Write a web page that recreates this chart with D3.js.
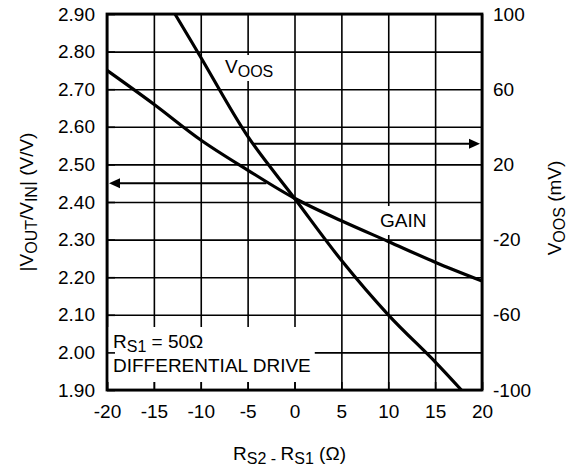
<!DOCTYPE html>
<html>
<head>
<meta charset="utf-8">
<script src="https://cdn.jsdelivr.net/npm/d3@7"></script>
<style>
  body { margin: 0; background: #fff; }
  svg { font-family: "Liberation Sans", Arial, sans-serif; }
  .tick text { font-size: 19px; fill: #000; }
</style>
</head>
<body>
<div id="chart"></div>
<script>
// x positions (ohms) for the gain curve
const rsDiff = [-20, -15, -10, -5, 0, 5, 10, 15, 20];
const gainValues = [2.75, 2.66, 2.565, 2.485, 2.41, 2.35, 2.295, 2.24, 2.19];

// offset voltage curve (mV), right axis
const vosX = [-12.75, -10, -5, 0, 5, 10, 15, 17.8];
const vosValues = [100, 77, 35, 2, -31, -60, -85, -100];

// tick values
const xTicks = [-20, -15, -10, -5, 0, 5, 10, 15, 20];
const gainTicks = [1.9, 2.0, 2.1, 2.2, 2.3, 2.4, 2.5, 2.6, 2.7, 2.8, 2.9];
const vosTicks = [100, 60, 20, -20, -60, -100];

// arrows pointing to the axis each curve belongs to
const arrows = [
  { x: -3, value: 2.45, side: "left" },
  { x: -4.5, value: 31, side: "right" },
];

const width = 576;
const height = 466;
const margin = { top: 14, right: 94, bottom: 76, left: 107 };
const w = width - margin.left - margin.right;
const h = height - margin.top - margin.bottom;

// plain hyphen for negatives, like the original
const hyphen = (f) => (d) => f(d).replace("−", "-");

const svg = d3
  .select("#chart")
  .append("svg")
  .attr("width", width)
  .attr("height", height);

const g = svg
  .append("g")
  .attr("transform", `translate(${margin.left},${margin.top})`);

const xScale = d3.scaleLinear().domain([-20, 20]).range([0, w]);
const yLeft = d3.scaleLinear().domain([1.9, 2.9]).range([h, 0]);
const yRight = d3.scaleLinear().domain([-100, 100]).range([h, 0]);

// grid lines
g.append("g")
  .attr("class", "grid")
  .call(d3.axisLeft(yLeft).tickValues(gainTicks).tickSize(-w).tickFormat(""))
  .call((s) => s.select(".domain").remove());
g.append("g")
  .attr("class", "grid")
  .attr("transform", `translate(0,${h})`)
  .call(d3.axisBottom(xScale).tickValues(xTicks).tickSize(-h).tickFormat(""))
  .call((s) => s.select(".domain").remove());
g.selectAll(".grid line").attr("stroke", "#000").attr("stroke-width", 1.6);

// text with optional subscripts
function label(x, y, parts, anchor) {
  const t = g
    .append("text")
    .attr("x", x)
    .attr("y", y)
    .attr("font-size", 19)
    .attr("text-anchor", anchor || "start");
  parts.forEach((p) => {
    t.append("tspan")
      .attr("font-size", p.sub ? 16 : 19)
      .attr("baseline-shift", p.sub ? "-4" : null)
      .text(p.t);
  });
  return t;
}

// label boxes (white background hides the grid)
function boxedLabel(x, y, lines, pad) {
  const grp = g.append("g");
  const rect = grp.append("rect").attr("fill", "#fff");
  const texts = lines.map((parts, i) => {
    const t = label(x, y + i * 24, parts);
    grp.node().appendChild(t.node());
    return t;
  });
  let x0 = Infinity, y0 = Infinity, x1 = -Infinity, y1 = -Infinity;
  texts.forEach((t) => {
    const b = t.node().getBBox();
    x0 = Math.min(x0, b.x);
    y0 = Math.min(y0, b.y);
    x1 = Math.max(x1, b.x + b.width);
    y1 = Math.max(y1, b.y + b.height);
  });
  rect
    .attr("x", x0 - pad[3])
    .attr("y", y0 - pad[0])
    .attr("width", x1 - x0 + pad[1] + pad[3])
    .attr("height", y1 - y0 + pad[0] + pad[2]);
}

boxedLabel(118, 59, [[{ t: "V" }, { t: "OOS", sub: true }]], [1, 4, 1, 4]);
boxedLabel(273, 213, [[{ t: "GAIN" }]], [4, 6, 4, 6]);
boxedLabel(
  6,
  334,
  [[{ t: "R" }, { t: "S1", sub: true }, { t: " = 50Ω" }], [{ t: "DIFFERENTIAL DRIVE" }]],
  [4, 4, 6, 6]
);

// curves
const gainLine = d3
  .line()
  .x((d, i) => xScale(rsDiff[i]))
  .y((d) => yLeft(d))
  .curve(d3.curveCatmullRom);

const vosLine = d3
  .line()
  .x((d, i) => xScale(vosX[i]))
  .y((d) => yRight(d))
  .curve(d3.curveCatmullRom);

g.append("path")
  .datum(gainValues)
  .attr("d", gainLine)
  .attr("fill", "none")
  .attr("stroke", "#000")
  .attr("stroke-width", 3.2);

g.append("path")
  .datum(vosValues)
  .attr("d", vosLine)
  .attr("fill", "none")
  .attr("stroke", "#000")
  .attr("stroke-width", 3.2);

// arrows
arrows.forEach((a) => {
  const y = a.side === "left" ? yLeft(a.value) : yRight(a.value);
  const x0 = xScale(a.x);
  const x1 = a.side === "left" ? 2 : w - 2;
  const dir = a.side === "left" ? 1 : -1;
  g.append("line")
    .attr("x1", x0)
    .attr("x2", x1 + dir * 8)
    .attr("y1", y)
    .attr("y2", y)
    .attr("stroke", "#000")
    .attr("stroke-width", 2);
  g.append("path")
    .attr("d", `M${x1},${y}L${x1 + dir * 11},${y - 5}L${x1 + dir * 11},${y + 5}Z`)
    .attr("fill", "#000");
});

// axes with inward ticks
const tickW = 1.6;
g.append("g")
  .attr("class", "axis")
  .call(d3.axisLeft(yLeft).tickValues(gainTicks).tickSize(-8).tickPadding(12).tickFormat(d3.format(".2f")));
g.append("g")
  .attr("class", "axis")
  .attr("transform", `translate(${w},0)`)
  .call(d3.axisRight(yRight).tickValues(vosTicks).tickSize(0).tickPadding(11).tickFormat(hyphen(d3.format("d"))));
g.append("g")
  .attr("class", "axis")
  .attr("transform", `translate(0,${h})`)
  .call(d3.axisBottom(xScale).tickValues(xTicks).tickSize(-8).tickPadding(15).tickFormat(hyphen(d3.format("d"))));
g.selectAll(".axis .domain").remove();
g.selectAll(".axis line").attr("stroke", "#000").attr("stroke-width", tickW);
g.selectAll(".axis text").attr("font-size", 19).attr("font-family", "Liberation Sans, Arial, sans-serif");

// frame
g.append("rect")
  .attr("width", w)
  .attr("height", h)
  .attr("fill", "none")
  .attr("stroke", "#000")
  .attr("stroke-width", 2.8);

// axis titles
function title(transform, parts, x, y) {
  const t = svg
    .append("text")
    .attr("text-anchor", "middle")
    .attr("font-size", 19);
  if (transform) t.attr("transform", transform);
  else t.attr("x", x).attr("y", y);
  parts.forEach((p) => {
    t.append("tspan").attr("font-size", p.sub ? 16 : 19)
      .attr("baseline-shift", p.sub ? "-4" : null).text(p.t);
  });
}

title(`translate(33,${margin.top + h / 2}) rotate(-90)`,
  [{ t: "|V" }, { t: "OUT", sub: true }, { t: "/V" }, { t: "IN", sub: true }, { t: "| (V/V)" }]);
title(`translate(561,${margin.top + h / 2 + 6}) rotate(-90)`,
  [{ t: "V" }, { t: "OOS", sub: true }, { t: " (mV)" }]);
title(null,
  [{ t: "R" }, { t: "S2 - ", sub: true }, { t: "R" }, { t: "S1", sub: true }, { t: " (Ω)" }],
  margin.left + w / 2 - 5, 460);
</script>
</body>
</html>
